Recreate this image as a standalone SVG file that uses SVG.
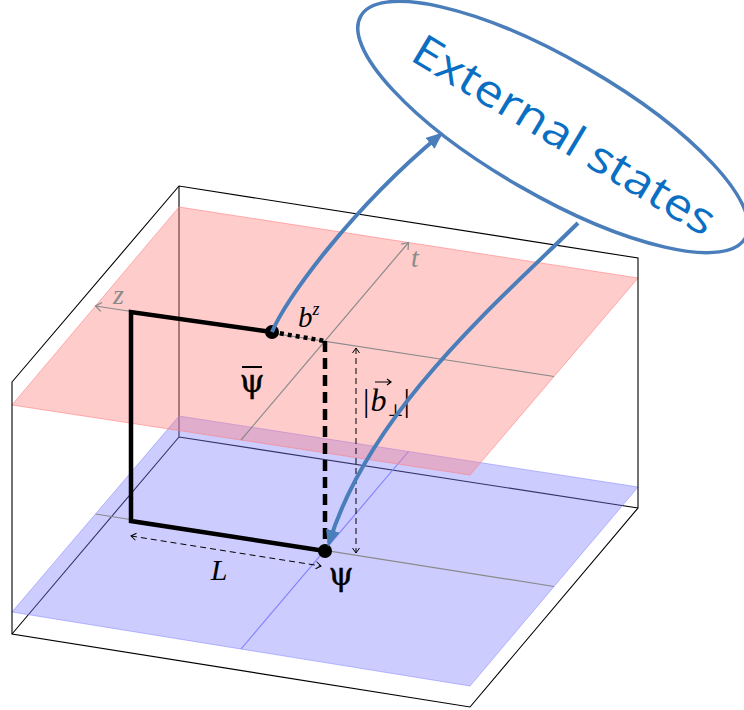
<svg xmlns="http://www.w3.org/2000/svg" width="744" height="710" viewBox="0 0 744 710">
<defs>
<style>
.edge{stroke:#000;stroke-width:1.1;fill:none}
.axis{stroke:#8a8a8a;stroke-width:1.2;fill:none}
.baxis{stroke:#8080ff;stroke-width:1.1;fill:none}
.conn{stroke:#4a7ebb;stroke-width:4;fill:none}
.thin{stroke:#000;stroke-width:1;fill:none;stroke-dasharray:6 4}
.wl{stroke:#000;stroke-width:4.5;fill:none}
</style>
<marker id="bhead" markerUnits="userSpaceOnUse" markerWidth="20" markerHeight="20" refX="13" refY="7" orient="auto"><path d="M0,0 L17,7 L0,14 z" fill="#4a7ebb"/></marker>
<marker id="chev" markerUnits="userSpaceOnUse" markerWidth="10" markerHeight="10" refX="6" refY="4" orient="auto-start-reverse"><path d="M1,0.5 L6,4 L1,7.5" fill="none" stroke="#000" stroke-width="1"/></marker>
<marker id="gchev" markerUnits="userSpaceOnUse" markerWidth="12" markerHeight="12" refX="7" refY="5" orient="auto"><path d="M1,0.5 L7,5 L1,9.5" fill="none" stroke="#8a8a8a" stroke-width="1.2"/></marker>
</defs>

<g id="box-hidden">
<path class="edge" d="M179,186 L179,437 M179,437 L638,508 M179,437 L12,634"/>
</g>

<g id="plane-lower">
<polygon points="12,612 179,416 638,487 470,686" fill="#8080ff" fill-opacity="0.4" stroke="#8080ff" stroke-opacity="0.5" stroke-width="1"/>
<path class="axis" d="M95.5,514 L554,586.5"/>
<path class="baxis" d="M241,649 L408.5,451.5"/>
</g>

<g id="plane-upper">
<polygon points="12,405 179,207 638,278 470,475" fill="#ff8080" fill-opacity="0.4" stroke="#ff8080" stroke-opacity="0.6" stroke-width="1"/>
<path class="axis" d="M554,376.5 L95.5,306" marker-end="url(#gchev)"/>
<path class="axis" d="M241,440 L408.5,242.5" marker-end="url(#gchev)"/>
<text x="113" y="304" font-family="'Liberation Serif', 'DejaVu Serif', serif" font-style="italic" font-size="28" fill="#8a8a8a">z</text>
<text x="411" y="267" font-family="'Liberation Serif', 'DejaVu Serif', serif" font-style="italic" font-size="28" fill="#8a8a8a">t</text>
</g>

<g id="box-visible">
<path class="edge" d="M12,382 L179,186 L638,258 L638,508 L470,707 L12,634 Z"/>
</g>

<g id="wilson-line">
<path class="wl" d="M272,332 L131,312 L131,521 L325,551"/>
<path class="wl" d="M272,332 L325,341" stroke-dasharray="4 4"/>
<path class="wl" d="M325,341 L325,551" stroke-dasharray="11 6"/>
</g>

<g id="dimensions">
<path class="thin" d="M131,536 L321,566" marker-start="url(#chev)" marker-end="url(#chev)"/>
<path class="thin" d="M356,348 L356,553" marker-start="url(#chev)" marker-end="url(#chev)"/>
</g>

<g id="node-psibar">
<circle cx="272" cy="332" r="7" fill="#000"/>
<text x="252" y="392" font-family="'DejaVu Serif', serif" font-size="32" text-anchor="middle" fill="#000" stroke="#000" stroke-width="0.4">ψ</text>
<line x1="242" y1="367" x2="262" y2="367" stroke="#000" stroke-width="2"/>
<text x="298" y="327" font-family="'Liberation Serif', 'DejaVu Serif', serif" font-size="29" fill="#000"><tspan font-style="italic">b</tspan><tspan font-style="italic" font-size="18" dy="-12">z</tspan></text>
</g>

<g id="node-psi">
<circle cx="325" cy="551" r="7" fill="#000"/>
<text x="341" y="585" font-family="'DejaVu Serif', serif" font-size="32" text-anchor="middle" fill="#000" stroke="#000" stroke-width="0.4">ψ</text>
</g>

<g id="labels">
<text x="219" y="580" font-family="'Liberation Serif', 'DejaVu Serif', serif" font-style="italic" font-size="30" text-anchor="middle" fill="#000">L</text>
<text x="363" y="411" font-family="'Liberation Serif', 'DejaVu Serif', serif" font-size="32" fill="#000">|<tspan font-style="italic" dx="1">b</tspan><tspan font-family="'DejaVu Serif', serif" font-size="17" dy="5" dx="1">⊥</tspan><tspan dy="-5">|</tspan></text>
<path d="M375,382 L391,382 M387,379 L391,382 L387,385" stroke="#000" stroke-width="1.2" fill="none"/>
</g>

<g id="node-external">
<ellipse cx="553" cy="127" rx="222" ry="68" transform="rotate(30 553 127)" fill="#fff" stroke="#4a7ebb" stroke-width="3.5"/>
<text x="0" y="13" transform="translate(563,137) rotate(31)" text-anchor="middle" font-family="'Open Sans', 'DejaVu Sans', sans-serif" font-size="44" fill="#0a6fc2" textLength="345" lengthAdjust="spacingAndGlyphs">External states</text>
</g>

<g id="connectors">
<path class="conn" d="M272,332 C285,300 350,210 440,135" marker-end="url(#bhead)"/>
<path class="conn" d="M578,223 C500,300 370,410 329,543" marker-end="url(#bhead)"/>
</g>
</svg>
